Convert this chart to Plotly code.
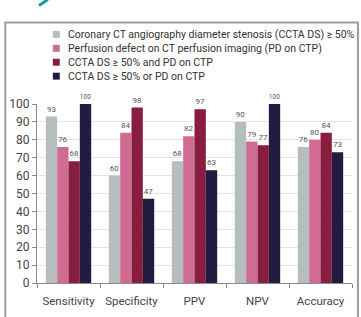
import plotly.graph_objects as go

categories = ["Sensitivity", "Specificity", "PPV", "NPV", "Accuracy"]
series_names = [
    "Coronary CT angiography diameter stenosis (CCTA DS) \u2265 50%",
    "Perfusion defect on CT perfusion imaging (PD on CTP)",
    "CCTA DS \u2265 50% and PD on CTP",
    "CCTA DS \u2265 50% or PD on CTP",
]
ccta_ds = [93, 60, 68, 90, 76]
pd_ctp = [76, 84, 82, 79, 80]
ccta_and_pd = [68, 98, 97, 77, 84]
ccta_or_pd = [100, 47, 63, 100, 73]
series_values = [ccta_ds, pd_ctp, ccta_and_pd, ccta_or_pd]
colors = ["#b5bdbd", "#d06b93", "#891d40", "#221c40"]
y_ticks = [0, 10, 20, 30, 40, 50, 60, 70, 80, 90, 100]

W, H = 361, 317
L, R, T, B = 34, 9, 104, 33
PW, PH = W - L - R, H - T - B


def px(x):
    return (x - L) / PW


def py(y):
    return (H - B - y) / PH


FONT = "Roboto"

fig = go.Figure()
for name, vals, col in zip(series_names, series_values, colors):
    fig.add_trace(go.Bar(
        x=categories, y=vals, name=name, marker_color=col, marker_line_width=0,
        text=[str(v) for v in vals], textposition="outside",
        textfont=dict(size=8, color="#555555", family=FONT),
        cliponaxis=False, showlegend=False,
    ))

shapes = []
annotations = []
# frame
shapes.append(dict(type="path", xref="paper", yref="paper",
                   path=f"M {px(2)} {py(330)} L {px(2)} {py(22)} L {px(358)} {py(22)} L {px(358)} {py(330)}",
                   line=dict(color="#9c9c9c", width=2)))
# small teal logo fragment
shapes.append(dict(type="line", xref="paper", yref="paper",
                   x0=px(36), y0=py(5), x1=px(45), y1=py(-1),
                   line=dict(color="#1c9aa3", width=3)))
# manual legend
for i, (name, col) in enumerate(zip(series_names, colors)):
    yc = 34 + i * 14
    shapes.append(dict(type="rect", xref="paper", yref="paper",
                       x0=px(50), x1=px(57), y0=py(yc - 3.5), y1=py(yc + 3.5),
                       fillcolor=col, line=dict(width=0)))
    annotations.append(dict(xref="paper", yref="paper", x=px(63.5), y=py(yc),
                            xanchor="left", yanchor="middle", showarrow=False,
                            text=name, font=dict(size=10.5, color="#333333", family=FONT)))

fig.update_layout(
    width=W, height=H,
    margin=dict(l=L, r=R, t=T, b=B),
    paper_bgcolor="white", plot_bgcolor="white",
    barmode="group", bargap=0.28, bargroupgap=0,
    shapes=shapes, annotations=annotations,
    font=dict(family=FONT, color="#444444"),
)
fig.update_xaxes(
    showline=True, linecolor="#8a8a8a", linewidth=1,
    ticks="outside", tickson="boundaries", ticklen=4, tickcolor="#8a8a8a",
    ticklabelstandoff=7,
    tickfont=dict(size=11.5, color="#444444", family=FONT),
    showgrid=False,
)
fig.update_yaxes(
    range=[0, 100], tickvals=y_ticks,
    showline=True, linecolor="#8a8a8a", linewidth=1,
    ticks="outside", ticklen=4, tickcolor="#8a8a8a",
    tickfont=dict(size=12, color="#444444", family=FONT),
    showgrid=True, gridcolor="#e4e4e4", gridwidth=1, zeroline=False,
)

fig.write_html("out.html")
